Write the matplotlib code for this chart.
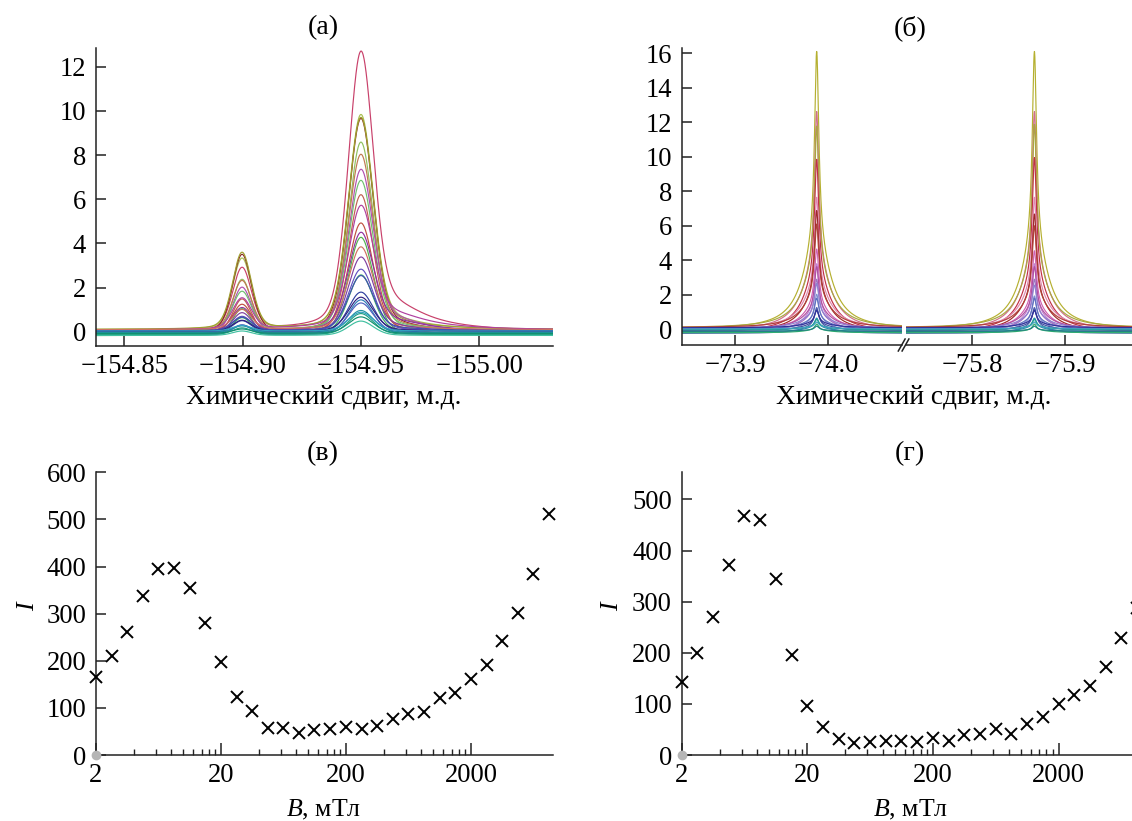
import numpy as np
import matplotlib
matplotlib.use("Agg")
import matplotlib.pyplot as plt
from matplotlib.ticker import FixedLocator, NullFormatter, FixedFormatter

plt.rcParams['font.family'] = ['Liberation Serif', 'DejaVu Serif']
plt.rcParams['mathtext.fontset'] = 'custom'
plt.rcParams['mathtext.it'] = 'Liberation Serif:italic'
plt.rcParams['mathtext.rm'] = 'Liberation Serif'

# ---------------- data ----------------
# panel (а): peak heights of each spectrum
a_small_center = -154.8998
a_big_center = -154.950
a_tail_center = -154.963
a_big = [12.7, 9.75, 9.7, 9.6, 8.7, 8.0, 7.45, 6.8, 6.35, 5.65, 4.95, 4.5, 4.45,
         3.75, 3.45, 2.85, 2.7, 2.5, 1.85, 1.6, 1.55, 1.4, 1.0, 0.95, 0.85, 0.75, 0.65]
a_small = [2.8, 3.2, 3.5, 3.45, 2.45, 2.25, 2.05, 1.75, 1.6, 1.4, 1.25, 1.05, 1.2,
           0.9, 0.9, 0.7, 0.75, 0.6, 0.55, 0.45, 0.5, 0.4, 0.3, 0.3, 0.25, 0.2, 0.2]
a_tail = [1.1, 0.35, 0.3, 0.25, 0.2, 0.2, 0.6, 0.15, 0.15, 0.7, 0.1, 0.45, 0.1,
          0.1, 0.3, 0.1, 0.1, 0.1, 0.05, 0.05, 0.05, 0.05, 0.0, 0.0, 0.0, 0.0, 0.0]
a_offset = [0.0, 0.08, -0.05, 0.1, -0.12, 0.03, -0.1, 0.05, -0.15, 0.07, -0.03, 0.0,
            -0.18, 0.09, -0.07, -0.02, -0.13, 0.04, -0.06, -0.16, 0.01, -0.1, -0.04, -0.13, 0.03, -0.08, -0.17]
a_colors = ["#c8406a", "#a8c050", "#8b2a2a", "#a0a030", "#90c060", "#c07a50", "#b050b0",
            "#70c070", "#c06050", "#b040a0", "#c05040", "#9030a0", "#50b050", "#d07060",
            "#8040a0", "#6050c0", "#40b060", "#4050b0", "#3040a0", "#2c7fb8", "#302080",
            "#5060c0", "#2090a0", "#20a080", "#30a0c0", "#109070", "#40c0a0"]

# panel (б): peak heights of each spectrum (two lines)
b_left_center = -73.9875
b_right_center = -75.867
b_left = [16.1, 12.7, 11.7, 10.0, 7.6, 7.0, 6.0, 4.7, 4.0, 3.6, 3.0, 2.6, 2.2,
          1.8, 1.5, 1.2, 1.0, 0.8, 0.6, 0.5, 0.4, 0.3]
b_right = [16.1, 12.7, 11.8, 10.1, 7.6, 6.8, 5.9, 4.6, 4.0, 3.6, 3.0, 2.5, 2.1,
           1.8, 1.5, 1.2, 1.0, 0.8, 0.6, 0.5, 0.4, 0.3]
b_offset = [0.0, -0.08, 0.08, -0.15, 0.05, -0.12, 0.1, -0.05, -0.2, 0.03, -0.1, 0.06,
            -0.17, 0.0, -0.24, -0.06, 0.09, -0.15, -0.03, -0.2, 0.02, -0.12]
b_colors = ["#b5b030", "#d0708a", "#a8a840", "#c03048", "#e088b0", "#a02828", "#b04038",
            "#d060b0", "#c080d0", "#b050a0", "#a070c0", "#9080d0", "#8090d0", "#6070c0",
            "#5060b0", "#4050a0", "#30309a", "#2a8ab0", "#20a090", "#30b070", "#40a0c0", "#208080"]

# panels (в), (г)
B_values = [2, 2.67, 3.56, 4.74, 6.32, 8.43, 11.2, 15.0, 20, 26.7, 35.6, 47.4, 63.2, 84.3,
            112, 150, 200, 267, 356, 474, 632, 843, 1125, 1500, 2000, 2667, 3557, 4743, 6325, 8434]
I_v = [166, 210, 260, 338, 395, 396, 355, 281, 198, 124, 94, 57, 57, 46, 54, 56, 60, 55,
       62, 76, 88, 91, 120, 131, 161, 192, 241, 302, 384, 511]
I_g = [143, 199, 270, 372, 467, 460, 344, 195, 96, 55, 31, 23, 25, 28, 28, 26, 33, 28,
       39, 42, 50, 42, 61, 75, 99, 117, 134, 173, 228, 287]

B_major = [2, 20, 200, 2000]
B_major_labels = ["2", "20", "200", "2000"]
B_minor = [4, 6, 8, 10, 12, 14, 16, 18, 40, 60, 80, 100, 120, 140, 160, 180,
           400, 600, 800, 1000, 1200, 1400, 1600, 1800]


# ---------------- helpers ----------------
def pvoigt(x, x0, fwhm, eta):
    d = (x - x0) / fwhm
    return eta / (1 + 4 * d ** 2) + (1 - eta) * np.exp(-4 * np.log(2) * d ** 2)


def lor(x, x0, fwhm):
    d = (x - x0) / fwhm
    return 1 / (1 + 4 * d ** 2)


W, H = 1132, 821
fig = plt.figure(figsize=(W / 100, H / 100), dpi=100)
renderer = fig.canvas.get_renderer()


def fit(text, target_px):
    t = fig.text(0, 0, text, fontsize=20)
    w = t.get_window_extent(renderer=renderer).width
    t.remove()
    return 20 * target_px / w


FS_TICK = fit("\u2212154.85", 88)
FS_XLAB = fit("Химический сдвиг, м.д.", 277)
FS_TITLE = fit("(а)", 31)
FS_BLAB = fit(r"$B$, мТл", 75)
SPINE = '#222222'


def style(ax, hide=('top', 'right')):
    for s in hide:
        ax.spines[s].set_visible(False)
    for s in ax.spines.values():
        s.set_linewidth(1.1)
        s.set_color(SPINE)
    ax.tick_params(direction='in', length=7, width=1.1, labelsize=FS_TICK, color=SPINE)
    ax.tick_params(axis='x', pad=6)
    ax.tick_params(axis='y', pad=7)


def rect(l, r, t, b):
    return [l / W, 1 - b / H, (r - l) / W, (b - t) / H]


# ---------------- (а) ----------------
axa = fig.add_axes(rect(95.7, 552.7, 47.7, 345.7))
style(axa)
xa = np.linspace(-154.838, -155.031, 1600)
tail_at_peak = lor(np.array(a_big_center), a_tail_center, 0.035)
for i in range(len(a_big)):
    main_amp = a_big[i] - a_tail[i] * tail_at_peak
    y = (main_amp * pvoigt(xa, a_big_center, 0.0125, 0.22)
         + a_small[i] * pvoigt(xa, a_small_center, 0.0095, 0.25)
         + a_tail[i] * lor(xa, a_tail_center, 0.035)
         + a_offset[i])
    axa.plot(xa, y, color=a_colors[i], lw=0.85)
axa.set_xlim(-154.838, -155.031)
axa.set_ylim(-0.634, 12.86)
axa.xaxis.set_major_locator(FixedLocator([-154.85, -154.90, -154.95, -155.00]))
axa.xaxis.set_major_formatter(FixedFormatter(["\u2212154.85", "\u2212154.90", "\u2212154.95", "\u2212155.00"]))
axa.yaxis.set_major_locator(FixedLocator([0, 2, 4, 6, 8, 10, 12]))
axa.yaxis.set_major_formatter(FixedFormatter(["0", "2", "4", "6", "8", "10", "12"]))

# ---------------- (б) ----------------
axb1 = fig.add_axes(rect(681.7, 901.7, 47.7, 345))
axb2 = fig.add_axes(rect(905.5, 1132, 47.7, 345))
style(axb1)
style(axb2, hide=('top', 'right', 'left'))
xb1 = np.linspace(-73.8424, -74.0789, 1600)
xb2 = np.linspace(-75.7279, -75.9723, 1600)
for i in range(len(b_left)):
    y1 = (0.7 * b_left[i] * lor(xb1, b_left_center, 0.0055)
          + 0.3 * b_left[i] * lor(xb1, b_left_center, 0.035) + b_offset[i])
    y2 = (0.7 * b_right[i] * lor(xb2, b_right_center, 0.0055)
          + 0.3 * b_right[i] * lor(xb2, b_right_center, 0.035) + b_offset[i])
    axb1.plot(xb1, y1, color=b_colors[i], lw=0.85)
    axb2.plot(xb2, y2, color=b_colors[i], lw=0.85)
for ax in (axb1, axb2):
    ax.set_ylim(-0.91, 16.32)
axb1.set_xlim(-73.8424, -74.0789)
axb2.set_xlim(-75.7279, -75.9723)
axb1.xaxis.set_major_locator(FixedLocator([-73.9, -74.0]))
axb1.xaxis.set_major_formatter(FixedFormatter(["\u221273.9", "\u221274.0"]))
axb2.xaxis.set_major_locator(FixedLocator([-75.8, -75.9]))
axb2.xaxis.set_major_formatter(FixedFormatter(["\u221275.8", "\u221275.9"]))
axb1.yaxis.set_major_locator(FixedLocator(list(range(0, 17, 2))))
axb1.yaxis.set_major_formatter(FixedFormatter([str(v) for v in range(0, 17, 2)]))
axb2.yaxis.set_visible(False)
# break marks
for xc in (901.7 / W, 905.5 / W):
    fig.add_artist(plt.Line2D([xc - 0.003, xc + 0.003], [1 - 351 / H, 1 - 339 / H],
                              color=SPINE, lw=1.1))

# ---------------- (в), (г) ----------------
axv = fig.add_axes(rect(96, 552.7, 472.3, 755))
axg = fig.add_axes(rect(681.7, 1132, 472.3, 755))
for ax, Ivals, xmax, ymax, yt in ((axv, I_v, 9017, 600, list(range(0, 601, 100))),
                                  (axg, I_g, 7693, 553, list(range(0, 501, 100)))):
    style(ax)
    ax.set_xscale('log')
    ax.plot(B_values, Ivals, 'x', color='black', ms=9, mew=1.4, clip_on=False, zorder=4)
    ax.plot([2], [0], 'o', color='#b5b5b5', ms=6, clip_on=False, zorder=5)
    ax.set_xlim(2, xmax)
    ax.set_ylim(0, ymax)
    ax.xaxis.set_major_locator(FixedLocator(B_major))
    ax.xaxis.set_major_formatter(FixedFormatter(B_major_labels))
    ax.xaxis.set_minor_locator(FixedLocator(B_minor))
    ax.xaxis.set_minor_formatter(NullFormatter())
    ax.tick_params(axis='x', which='minor', direction='in', length=4.5, width=1.0, color=SPINE)
    ax.tick_params(axis='x', which='major', length=9)
    ax.yaxis.set_major_locator(FixedLocator(yt))
    ax.yaxis.set_major_formatter(FixedFormatter([str(v) for v in yt]))

# ---------------- texts ----------------
fig.text(323 / W, 1 - 28 / H, "(а)", ha='center', va='center', fontsize=FS_TITLE)
fig.text(910 / W, 1 - 28 / H, "(б)", ha='center', va='center', fontsize=FS_TITLE)
fig.text(323 / W, 1 - 454 / H, "(в)", ha='center', va='center', fontsize=FS_TITLE)
fig.text(910 / W, 1 - 454 / H, "(г)", ha='center', va='center', fontsize=FS_TITLE)
fig.text(324 / W, 1 - 403.5 / H, "Химический сдвиг, м.д.", ha='center', va='baseline', fontsize=FS_XLAB)
fig.text(914 / W, 1 - 403.5 / H, "Химический сдвиг, м.д.", ha='center', va='baseline', fontsize=FS_XLAB)
fig.text(324 / W, 1 - 816 / H, r"$B$, мТл", ha='center', va='baseline', fontsize=FS_BLAB)
fig.text(911 / W, 1 - 816 / H, r"$B$, мТл", ha='center', va='baseline', fontsize=FS_BLAB)
fig.text(28 / W, 1 - 605 / H, r"$I$", ha='center', va='center', fontsize=FS_BLAB, rotation=90)
fig.text(612 / W, 1 - 605 / H, r"$I$", ha='center', va='center', fontsize=FS_BLAB, rotation=90)

fig.savefig("out.png", dpi=100)
